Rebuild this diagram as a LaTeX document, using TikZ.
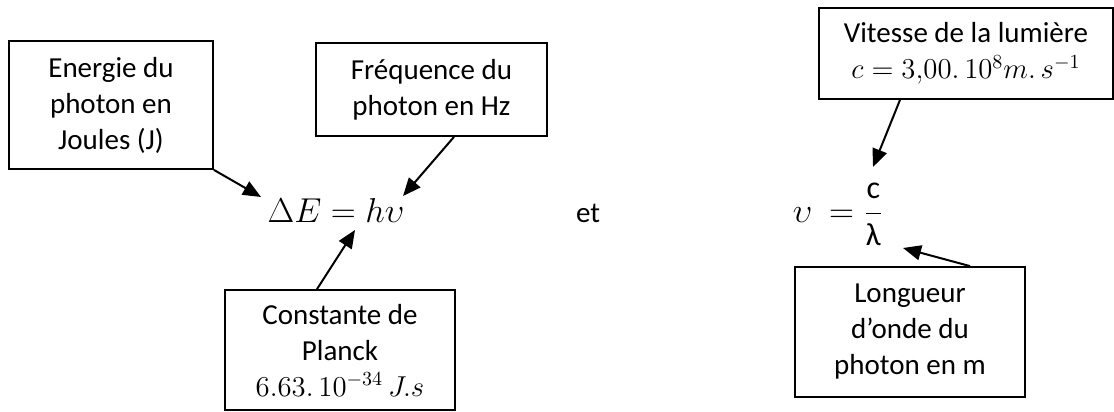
\documentclass[tikz,border=0pt]{standalone}
\usepackage{amsmath}
\usepackage[no-math]{fontspec}
\setmainfont{Carlito}
\usepackage{tikz}
\usetikzlibrary{shapes, arrows.meta, positioning}
\tikzset{%
  block/.style={rectangle, draw, line width=0.9pt, align=center, inner sep=0pt, font=\fontsize{14.5}{18}\selectfont},
  formula/.style={anchor=base, inner sep=0pt, font=\fontsize{16}{19}\selectfont},
  word/.style={formula, font=\fontsize{14.5}{18}\selectfont},
  line/.style={draw, line width=1pt, -{Triangle[length=9pt, width=7.5pt]}}}

\begin{document}
\begin{tikzpicture}[x=0.5pt, y=-0.5pt]
    \useasboundingbox (0, 0) rectangle (1114, 412);
    % E = h nu
    \node [formula] (energy) at (336, 222) {$\Delta E = h\upsilon$};
    \node [block, minimum width=102pt, minimum height=64pt] (energie) at (111, 105) {Energie du\\photon en\\Joules (J)};
    \node [block, minimum width=115.5pt, minimum height=46.5pt] (frequence) at (431.5, 89.5) {Fréquence du\\photon en Hz};
    \node [block, minimum width=115pt, minimum height=60pt] (planck) at (340, 350) {Constante de\\Planck\\$6.63.\,10^{-34}\,J.s$};
    \coordinate (eTip) at (261, 197);
    \coordinate (nuTip) at (403, 196);
    \coordinate (hTip) at (355, 230);
    \path [line] (energie.south east) -- (eTip);
    \path [line] ([xshift=11.25pt]frequence.south) -- (nuTip);
    \path [line] ([xshift=-11.5pt]planck.north) -- (hTip);

    \node [word] (et) at (588, 222) {et};

    % nu = c / lambda
    \node [formula] (wave) at (838, 222) {$\upsilon\ = \dfrac{\text{c}}{\text{λ}}$};
    \node [block, minimum width=147pt, minimum height=45.5pt] (vitesse) at (966, 53.5) {Vitesse de la lumière\\$c = 3{,}00.\,10^{8}m.\,s^{-1}$};
    \node [block, minimum width=115pt, minimum height=65pt] (longueur) at (910, 332) {Longueur\\d’onde du\\photon en m};
    \coordinate (cTip) at (873, 167);
    \coordinate (lTip) at (903, 248);
    \path [line] ([xshift=-33pt]vitesse.south) -- (cTip);
    \path [line] ([xshift=30pt]longueur.north) -- (lTip);
  \end{tikzpicture}
\end{document}
